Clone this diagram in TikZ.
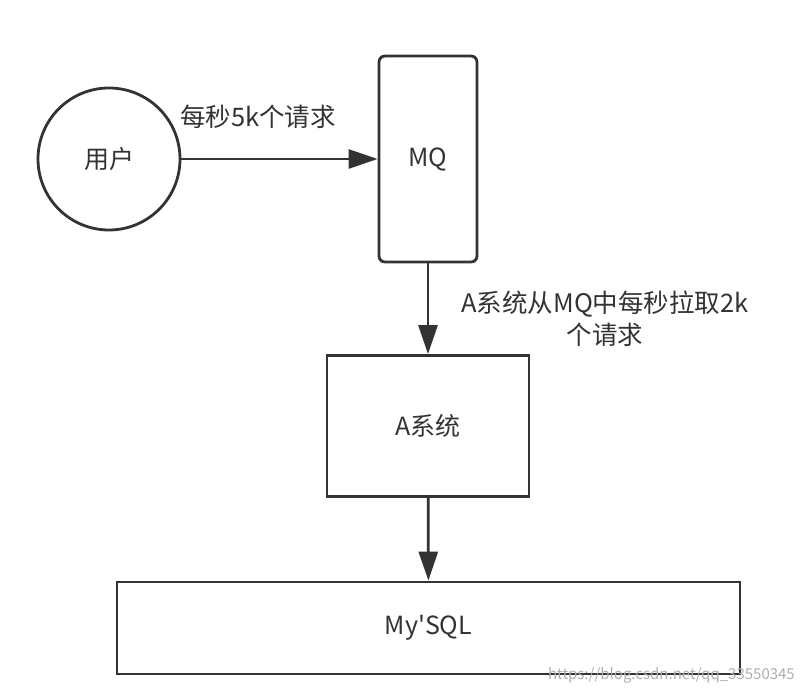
\documentclass[tikz,border=0pt]{standalone}
\usepackage{fontspec}
\usepackage{tikz}
\usetikzlibrary{arrows.meta,positioning}
\newfontfamily\cjk{Noto Sans CJK SC}
\definecolor{linecolor}{RGB}{51,51,51}
\definecolor{markcolor}{RGB}{175,175,175}

\begin{document}
\begin{tikzpicture}[
    x=1pt, y=-1pt,
    block/.style={rectangle, draw=linecolor, line width=2.8pt, fill=white, text=linecolor,
                  font=\cjk\fontsize{25}{30}\selectfont, align=center, inner sep=0pt},
    arrow/.style={-{Triangle[length=29pt,width=19pt]}, line width=2.8pt, draw=linecolor},
    note/.style={text=linecolor, font=\cjk\fontsize{25.5}{32}\selectfont, align=center, inner sep=0pt}
]
    \useasboundingbox[fill=white] (0,0) rectangle (804,692);

    % user and queue
    \node[block, circle, minimum size=142pt] (user) at (109,159) {用户};
    \node[block, rounded corners=6pt, minimum width=98pt, minimum height=206pt] (mq) at (428,159) {MQ};
    \draw[arrow] (user) -- (mq);
    \node[note] (rate) at (258,117) {每秒5k个请求};

    % A system
    \node[block, minimum width=202pt, minimum height=141pt] (asys) at (428,426) {A系统};
    \draw[arrow] (mq) -- (asys);
    \node[note] (pull) at (605,319) {A系统从MQ中每秒拉取2k\\个请求};

    % database
    \node[block, minimum width=623pt, minimum height=92pt] (mysql) at (428.5,628) {My'SQL};
    \draw[arrow] (asys) -- (mysql);

    \node[text=markcolor, font=\cjk\fontsize{15}{15}\selectfont, anchor=east, inner sep=0pt] (mark) at (795,675) {https://blog.csdn.net/qq\_33550345};
\end{tikzpicture}
\end{document}
